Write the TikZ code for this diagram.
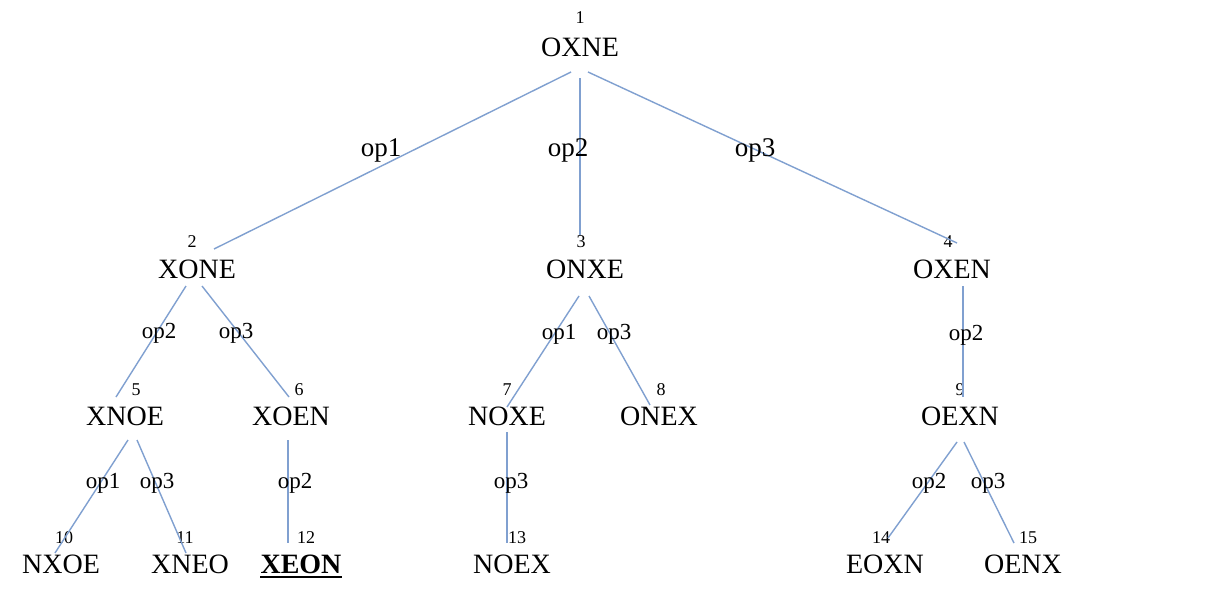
\documentclass[tikz,border=0pt]{standalone}
\usepackage{fontspec}
\setmainfont{Liberation Serif}
\definecolor{edgeblue}{RGB}{128,160,208}
\tikzset{
  word/.style={inner sep=0pt, anchor=base, font=\fontsize{28}{28}\selectfont},
  num/.style={inner sep=0pt, anchor=base, font=\fontsize{18}{18}\selectfont},
  opbig/.style={inner sep=0pt, anchor=base, font=\fontsize{27}{27}\selectfont},
  opsmall/.style={inner sep=0pt, anchor=base, font=\fontsize{23}{23}\selectfont},
  edge/.style={draw=edgeblue, line width=1.4pt}
}
\begin{document}
\begin{tikzpicture}[x=1pt,y=-1pt]
\useasboundingbox[fill=white] (0,0) rectangle (1231,610);
% level 1
\node[num]  (n1) at (580,24) {1};
\node[word] (w1) at (580,57) {OXNE};
% level 2
\node[num]  (n2) at (192,247) {2};
\node[word] (w2) at (197,278) {XONE};
\node[num]  (n3) at (581,247) {3};
\node[word] (w3) at (585,278) {ONXE};
\node[num]  (n4) at (948,247) {4};
\node[word] (w4) at (952,278) {OXEN};
% level 3
\node[num]  (n5) at (136,395) {5};
\node[word] (w5) at (125,425) {XNOE};
\node[num]  (n6) at (299,395) {6};
\node[word] (w6) at (291,425) {XOEN};
\node[num]  (n7) at (507,395) {7};
\node[word] (w7) at (507,425) {NOXE};
\node[num]  (n8) at (661,395) {8};
\node[word] (w8) at (659,425) {ONEX};
\node[num]  (n9) at (960,395) {9};
\node[word] (w9) at (960,425) {OEXN};
% level 4
\node[num]  (n10) at (64,543) {10};
\node[word] (w10) at (61,573) {NXOE};
\node[num]  (n11) at (185,543) {11};
\node[word] (w11) at (190,573) {XNEO};
\node[num]  (n12) at (306,543) {12};
\node[word] (w12) at (301,573) {\textbf{XEON}};
\draw[line width=2pt] ([yshift=-4pt]w12.base west) -- ([yshift=-4pt]w12.base east);
\node[num]  (n13) at (517,543) {13};
\node[word] (w13) at (512,573) {NOEX};
\node[num]  (n14) at (881,543) {14};
\node[word] (w14) at (885,573) {EOXN};
\node[num]  (n15) at (1028,543) {15};
\node[word] (w15) at (1023,573) {OENX};
% edges
\draw[edge] ([shift={(-9,15)}]w1.base) -- ([shift={(22,2)}]n2.base);
\draw[edge] ([shift={(0,21)}]w1.base) -- ([shift={(-1,-12)}]n3.base);
\draw[edge] ([shift={(8,15)}]w1.base) -- ([shift={(9,-4)}]n4.base);
\draw[edge] ([shift={(-11,8)}]w2.base) -- ([shift={(-20,2)}]n5.base);
\draw[edge] ([shift={(5,8)}]w2.base) -- ([shift={(-10,2)}]n6.base);
\draw[edge] ([shift={(-6,18)}]w3.base) -- ([shift={(0,12)}]n7.base);
\draw[edge] ([shift={(4,18)}]w3.base) -- ([shift={(-11,10)}]n8.base);
\draw[edge] ([shift={(11,8)}]w4.base) -- ([shift={(3,2)}]n9.base);
\draw[edge] ([shift={(3,15)}]w5.base) -- ([shift={(-9,10)}]n10.base);
\draw[edge] ([shift={(12,15)}]w5.base) -- ([shift={(1,10)}]n11.base);
\draw[edge] ([shift={(-3,15)}]w6.base) -- ([shift={(-18,0)}]n12.base);
\draw[edge] ([shift={(0,7)}]w7.base) -- ([shift={(-10,0)}]n13.base);
\draw[edge] ([shift={(-3,17)}]w9.base) -- ([shift={(7,-5)}]n14.base);
\draw[edge] ([shift={(4,17)}]w9.base) -- ([shift={(-14,0)}]n15.base);
% edge labels
\node[opbig] (o12) at (381,156) {op1};
\node[opbig] (o13) at (568,156) {op2};
\node[opbig] (o14) at (755,156) {op3};
\node[opsmall] (o25) at (159,338) {op2};
\node[opsmall] (o26) at (236,338) {op3};
\node[opsmall] (o37) at (559,339) {op1};
\node[opsmall] (o38) at (614,339) {op3};
\node[opsmall] (o49) at (966,340) {op2};
\node[opsmall] (o510) at (103,488) {op1};
\node[opsmall] (o511) at (157,488) {op3};
\node[opsmall] (o612) at (295,488) {op2};
\node[opsmall] (o713) at (511,488) {op3};
\node[opsmall] (o914) at (929,488) {op2};
\node[opsmall] (o915) at (988,488) {op3};
\end{tikzpicture}
\end{document}
